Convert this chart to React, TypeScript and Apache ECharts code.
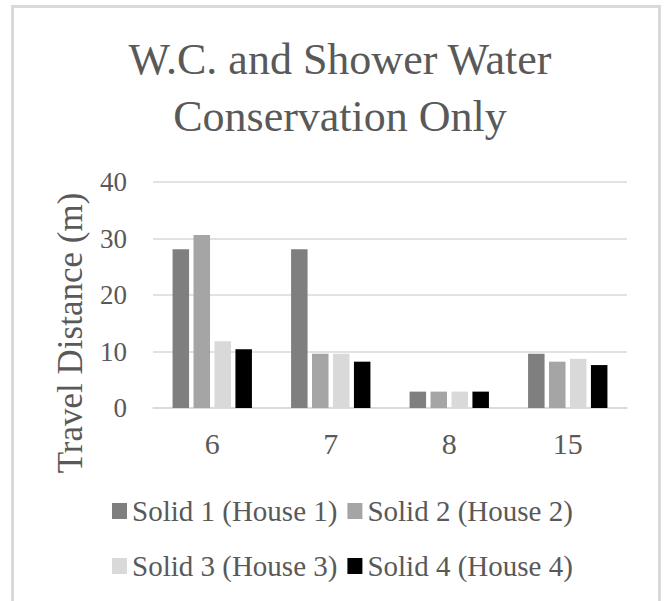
import React, { useEffect, useRef } from "react";
import * as echarts from "echarts";

const categories = ["6", "7", "8", "15"];
const seriesNames = [
  "Solid 1 (House 1)",
  "Solid 2 (House 2)",
  "Solid 3 (House 3)",
  "Solid 4 (House 4)",
];
const solid1 = [28.1, 28.1, 2.9, 9.6];
const solid2 = [30.6, 9.6, 2.9, 8.2];
const solid3 = [11.8, 9.6, 2.9, 8.7];
const solid4 = [10.4, 8.2, 2.9, 7.6];
const seriesColors = ["#7f7f7f", "#a5a5a5", "#d9d9d9", "#000000"];
const yTicks = { min: 0, max: 40, interval: 10 };

const FONT = "'Liberation Serif', 'DejaVu Serif', serif";
const TEXT = "#595959";

export default function App() {
  const ref = useRef<HTMLDivElement>(null);
  useEffect(() => {
    if (!ref.current) return;
    const chart = echarts.init(ref.current, null, { renderer: "svg" });
    const data = [solid1, solid2, solid3, solid4];
    const legendText = { fontFamily: FONT, fontSize: 29, color: TEXT, lineHeight: 30 };
    chart.setOption({
      animation: false,
      backgroundColor: "#ffffff",
      title: {
        text: "W.C. and Shower Water\nConservation Only",
        left: 335,
        textAlign: "center",
        top: 26,
        textStyle: {
          fontFamily: FONT,
          fontSize: 44,
          lineHeight: 57,
          fontWeight: "normal",
          color: TEXT,
        },
      },
      grid: { left: 153, right: 37, top: 182, bottom: 193, containLabel: false },
      xAxis: {
        type: "category",
        data: categories,
        axisLine: { lineStyle: { color: "#d9d9d9", width: 1.5 } },
        axisTick: { show: false },
        axisLabel: { fontFamily: FONT, fontSize: 30, color: TEXT, margin: 20 },
      },
      yAxis: {
        type: "value",
        min: yTicks.min,
        max: yTicks.max,
        interval: yTicks.interval,
        axisLine: { show: false },
        axisTick: { show: false },
        splitLine: { lineStyle: { color: "#d9d9d9", width: 1.5 } },
        axisLabel: { fontFamily: FONT, fontSize: 27, color: TEXT, margin: 26 },
      },
      legend: [
        {
          data: [seriesNames[0], seriesNames[1]],
          left: 107,
          top: 491,
          icon: "rect",
          itemWidth: 15,
          itemHeight: 16,
          itemGap: 10,
          textStyle: legendText,
        },
        {
          data: [seriesNames[2], seriesNames[3]],
          left: 107,
          top: 546,
          icon: "rect",
          itemWidth: 15,
          itemHeight: 16,
          itemGap: 10,
          textStyle: legendText,
        },
      ],
      graphic: [
        {
          type: "rect",
          shape: { x: 12.5, y: 6.5, width: 647, height: 620 },
          style: { fill: "none", stroke: "#d9d9d9", lineWidth: 3 },
          silent: true,
        },
        {
          type: "text",
          x: 70,
          y: 333,
          rotation: Math.PI / 2,
          style: {
            text: "Travel Distance (m)",
            fontFamily: FONT,
            fontSize: 35,
            fill: TEXT,
            textAlign: "center",
            textVerticalAlign: "middle",
          },
        },
      ],
      series: seriesNames.map((name, i) => ({
        name,
        type: "bar",
        data: data[i],
        barWidth: 16.5,
        barGap: "27%",
        itemStyle: { color: seriesColors[i] },
      })),
    });
    return () => chart.dispose();
  }, []);
  return (
    <div
      style={{ position: "fixed", left: 0, top: 0, width: 664, height: 601, background: "#fff" }}
    >
      <div ref={ref} style={{ width: 664, height: 601 }} />
    </div>
  );
}
